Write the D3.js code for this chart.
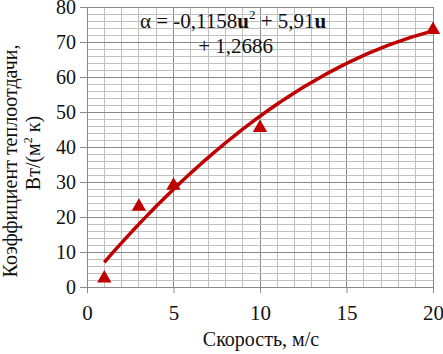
<!DOCTYPE html>
<html><head><meta charset="utf-8">
<script src="https://cdn.jsdelivr.net/npm/d3@7"></script>
<style>body{margin:0;background:#fff;} svg{display:block;} svg text{font-family:"Liberation Serif","Times New Roman",serif !important;}</style>
</head><body><svg id="c" width="443" height="354"></svg>
<script>
const speeds = [1, 3, 5, 10, 20];
const alphaValues = [2.5, 23, 29, 45.5, 73.5];
const xTicks = [0, 5, 10, 15, 20];
const yTicks = [0, 10, 20, 30, 40, 50, 60, 70, 80];
const coef = [-0.1158, 5.91, 1.2686];
const xLabel = "Скорость, м/с";
const yLabel1 = "Коэффициент теплоотдачи,";
const yLabel2 = "Вт/(м² к)";

const svg = d3.select("#c");
const x = d3.scaleLinear().domain([0, 20]).range([87, 433]);
const y = d3.scaleLinear().domain([0, 80]).range([287, 7]);
const g = svg.append("g");

// grid
g.selectAll(".vx").data(d3.range(0, 21, 1)).join("line")
  .attr("x1", d => x(d)).attr("x2", d => x(d)).attr("y1", y(0)).attr("y2", y(80))
  .attr("stroke", d => d % 5 === 0 ? "#888888" : "#c0c0c0").attr("stroke-width", 1)
  .attr("shape-rendering", "crispEdges");
g.selectAll(".hy").data(d3.range(0, 81, 2)).join("line")
  .attr("x1", x(0)).attr("x2", x(20)).attr("y1", d => y(d)).attr("y2", d => y(d))
  .attr("stroke", d => d % 10 === 0 ? "#888888" : "#c0c0c0").attr("stroke-width", 1)
  .attr("shape-rendering", "crispEdges");

// axes
const xAxis = d3.axisBottom(x).tickValues(xTicks).tickSize(6).tickPadding(10).tickFormat(d3.format("d"));
const gx = svg.append("g").attr("transform", `translate(0,${y(0)})`).call(xAxis)
  .attr("font-family", null).attr("font-size", null);
gx.select(".domain").attr("stroke", "#888888");
gx.selectAll(".tick line").attr("stroke", "#888888");
gx.selectAll("text").style("font-size", "21px").attr("fill", "#111").attr("dy", "0.8em");

const yAxis = d3.axisLeft(y).tickValues(yTicks).tickSize(7).tickPadding(4).tickFormat(d3.format("d"));
const gy = svg.append("g").attr("transform", `translate(${x(0)},0)`).call(yAxis)
  .attr("font-family", null).attr("font-size", null);
gy.select(".domain").attr("stroke", "#888888");
gy.selectAll(".tick line").attr("stroke", "#888888");
gy.selectAll("text").style("font-size", "20px").attr("fill", "#111").attr("dy", "0.34em");

// trend line
const f = u => coef[0] * u * u + coef[1] * u + coef[2];
const curveU = d3.range(1, 20.001, 0.25);
svg.append("path").datum(curveU)
  .attr("d", d3.line().x(d => x(d)).y(d => y(f(d))).curve(d3.curveMonotoneX))
  .attr("fill", "none").attr("stroke", "#c00000").attr("stroke-width", 3.5);

// markers
svg.selectAll(".pt").data(speeds.map((s, i) => [s, alphaValues[i]])).join("path")
  .attr("d", d3.symbol().type(d3.symbolTriangle).size(90))
  .attr("transform", d => `translate(${x(d[0])},${y(d[1])})`)
  .attr("fill", "#c00000");

// equation
const eq = svg.append("text").attr("x", 140).attr("y", 28).style("font-size", "21px").attr("fill", "#111");
eq.append("tspan").text("α = -0,1158");
eq.append("tspan").attr("font-weight", "bold").text("u");
eq.append("tspan").style("font-size", "13px").attr("dy", -9).text("2");
eq.append("tspan").attr("dy", 9).text(" + 5,91");
eq.append("tspan").attr("font-weight", "bold").text("u");
svg.append("text").attr("x", 273).attr("y", 53).attr("text-anchor", "end")
  .style("font-size", "21px").attr("fill", "#111").text("+ 1,2686");

// axis titles
svg.append("text").attr("x", 261).attr("y", 346).attr("text-anchor", "middle")
  .style("font-size", "20px").attr("fill", "#111").text(xLabel);
svg.append("text").attr("transform", "translate(17,161) rotate(-90)").attr("text-anchor", "middle")
  .style("font-size", "20px").attr("fill", "#111").text(yLabel1);
const yl2 = svg.append("text").attr("transform", "translate(40,153) rotate(-90)").attr("text-anchor", "middle")
  .style("font-size", "20px").attr("fill", "#111");
yl2.append("tspan").text("Вт/(м");
yl2.append("tspan").style("font-size", "12px").attr("dy", -8).text("2");
yl2.append("tspan").attr("dy", 8).text(" к)");
</script></body></html>
